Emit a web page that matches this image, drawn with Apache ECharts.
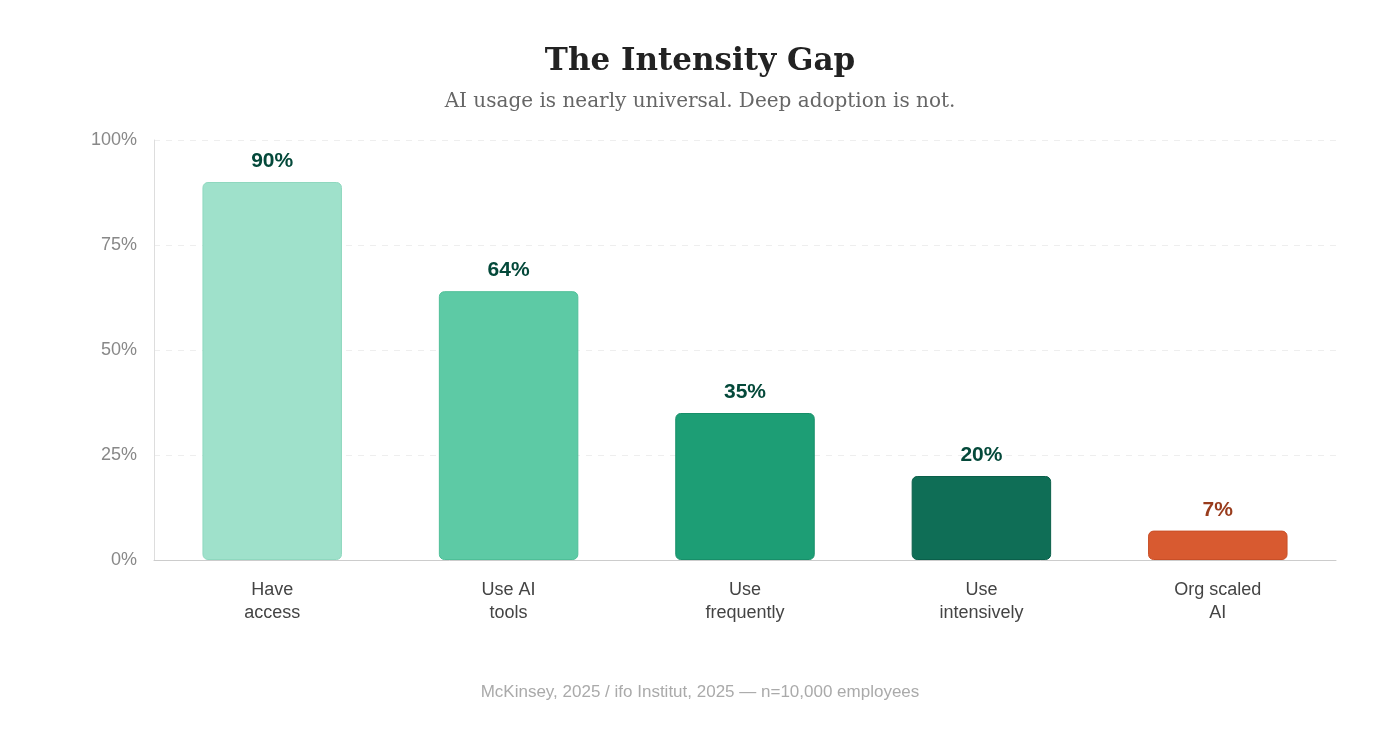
<!DOCTYPE html>
<html><head><meta charset="utf-8">
<script src="https://cdn.jsdelivr.net/npm/echarts@6/dist/echarts.min.js"></script>
<style>html,body{margin:0;padding:0;background:#fff}#c{width:1400px;height:747px}</style>
</head><body><div id="c"></div>
<script>
const categories = ['Have\naccess', 'Use AI\ntools', 'Use\nfrequently', 'Use\nintensively', 'Org scaled\nAI'];
const values = [90, 64, 35, 20, 7];
const barColors = ['#9FE1CB', '#5DCAA5', '#1D9E75', '#0F6E56', '#D85A30'];
const borderColors = ['#8fd8bf', '#4fbf98', '#178f69', '#0a5f4a', '#c94f27'];
const labelColors = ['#04493A', '#04493A', '#04493A', '#04493A', '#993C1D'];
const yTicks = [0, 25, 50, 75, 100];

const chart = echarts.init(document.getElementById('c'));
chart.setOption({
  animation: false,
  title: [
    { text: 'The Intensity Gap', left: 'center', top: 41,
      textStyle: { fontFamily: 'DejaVu Serif', fontWeight: 'bold', fontSize: 31, color: '#222' } },
    { text: 'AI usage is nearly universal. Deep adoption is not.', left: 'center', top: 87,
      textStyle: { fontFamily: 'DejaVu Serif', fontWeight: 'normal', fontSize: 20, color: '#666' } },
    { text: 'McKinsey, 2025 / ifo Institut, 2025 — n=10,000 employees', left: 'center', top: 679,
      textStyle: { fontFamily: 'Liberation Sans', fontWeight: 'normal', fontSize: 17, color: '#aaa' } }
  ],
  grid: { left: 154, right: 64, top: 140, bottom: 187 },
  xAxis: {
    type: 'category', data: categories,
    axisLine: { lineStyle: { color: '#ccc' } },
    axisTick: { show: false },
    axisLabel: { fontFamily: 'Liberation Sans', fontSize: 18, color: '#444', lineHeight: 23, margin: 19 }
  },
  yAxis: {
    type: 'value', min: 0, max: 100, interval: 25,
    axisLine: { show: true, lineStyle: { color: '#ddd' } },
    axisTick: { show: false },
    splitLine: { lineStyle: { color: '#eee', type: [6, 6] } },
    axisLabel: { fontFamily: 'Liberation Sans', fontSize: 18, color: '#888', margin: 17,
      formatter: v => yTicks.includes(v) ? v + '%' : '' }
  },
  series: [{
    type: 'bar', barWidth: '59%',
    data: values.map((v, i) => ({
      value: v,
      itemStyle: { color: barColors[i], borderColor: borderColors[i], borderWidth: 1, borderRadius: [5, 5, 5, 5] },
      label: { color: labelColors[i] }
    })),
    label: { show: true, position: 'top', distance: 10, formatter: '{c}%',
      fontFamily: 'Liberation Sans', fontWeight: 'bold', fontSize: 21 }
  }]
});
</script></body></html>
